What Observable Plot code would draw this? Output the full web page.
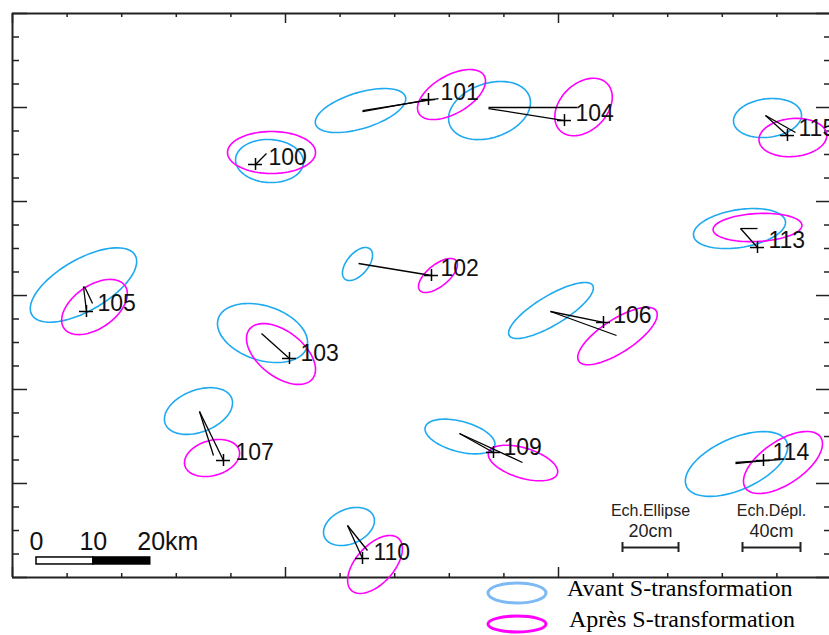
<!DOCTYPE html>
<html><head><meta charset="utf-8">
<script src="https://cdn.jsdelivr.net/npm/d3@7"></script>
<script src="https://cdn.jsdelivr.net/npm/@observablehq/plot@0.6"></script>
<style>
html,body{margin:0;padding:0;background:#fff;overflow:hidden;}
#wrap{position:relative;width:829px;height:635px;overflow:hidden;}
#wrap svg{position:absolute;left:0;top:0;}
</style></head><body><div id="wrap"></div>
<script>
// ---- data (map units: km) ----
const stations = ["100","101","102","103","104","105","106","107","109","110","113","114","115"];
const stationX = [42.73, 73.14, 73.67, 48.70, 97.05, 13.01, 103.91, 37.10, 84.57, 61.54, 130.99, 132.04, 136.26];
const stationY = [72.62, 84.04, 53.10, 38.51, 80.35, 46.77, 44.84, 20.57, 21.98, 3.34, 58.02, 20.57, 77.71];
const labelX = [45.01, 75.25, 75.25, 50.64, 98.99, 14.95, 105.63, 39.21, 86.33, 63.47, 132.92, 133.63, 138.20];
const labelY = [73.85, 85.27, 54.33, 39.38, 81.58, 48.18, 46.07, 21.98, 22.86, 4.40, 59.25, 21.98, 78.94];

// error ellipses before S-transformation: centre, semi-axes, orientation (deg)
const beforeCx = [45.19, 61.19, 60.66, 43.96, 83.87, 12.48, 94.68, 32.70, 78.68, 59.16, 127.82, 127.30, 132.75];
const beforeCy = [73.23, 82.11, 55.12, 42.99, 82.11, 51.43, 46.95, 29.27, 24.79, 8.97, 61.36, 19.96, 80.79];
const beforeA  = [5.98, 8.26, 3.45, 8.18, 7.44, 10.48, 8.56, 6.26, 6.33, 4.69, 8.18, 9.64, 6.01];
const beforeB  = [3.78, 3.16, 1.88, 4.77, 4.76, 4.52, 2.57, 3.69, 2.67, 3.04, 3.32, 4.52, 3.38];
const beforeAngle = [-3, 17, 50, -18, 19, 30, 31, 21, -15, 23, 9, 24, 7];

// error ellipses after S-transformation
const afterCx = [45.54, 77.19, 74.81, 47.21, 100.40, 14.42, 106.37, 35.08, 89.76, 63.74, 130.99, 135.47, 137.21];
const afterCy = [74.73, 84.92, 53.10, 39.30, 82.73, 47.56, 42.46, 21.01, 20.13, 2.29, 61.54, 20.22, 77.36];
const afterA  = [7.74, 6.63, 4.13, 7.05, 5.85, 6.54, 8.12, 4.96, 6.33, 6.17, 7.82, 7.98, 5.98];
const afterB  = [3.69, 3.34, 1.90, 3.97, 4.10, 3.76, 2.90, 3.08, 2.64, 3.34, 2.46, 3.78, 3.34];
const afterAngle = [0, 30, 39, -38, 45, 35, 33, 16, -17, 48, 3, 34, 5];

// displacement vectors
const vecStation = ["100","101","101","102","103","104","104","105","105","106","106","107","107","109","109","110","110","113","113","114","114","115","115"];
const vecX1 = [42.73, 61.54, 61.54, 60.84, 43.78, 83.69, 83.69, 12.48, 12.66, 94.59, 94.59, 32.88, 32.88, 78.59, 78.59, 58.90, 58.90, 128.00, 128.00, 127.12, 127.12, 132.40, 132.40];
const vecY1 = [72.62, 81.93, 82.11, 55.21, 42.90, 82.46, 82.64, 51.16, 51.16, 46.77, 46.77, 29.19, 29.19, 25.32, 25.32, 9.14, 9.14, 61.36, 61.36, 20.04, 20.22, 81.23, 81.23];
const vecX2 = [44.66, 73.14, 74.90, 73.67, 48.70, 97.05, 99.34, 13.01, 14.07, 103.91, 106.20, 37.10, 35.34, 84.57, 89.67, 61.54, 62.42, 130.99, 130.99, 132.04, 135.03, 136.26, 137.67];
const vecY2 = [74.55, 84.04, 84.22, 53.10, 38.51, 80.35, 82.64, 46.77, 48.18, 44.84, 42.55, 20.57, 21.45, 21.98, 20.22, 3.34, 4.75, 58.02, 61.36, 20.57, 20.75, 77.71, 78.24];

// frame and ticks
const xExtent = [0, 144];
const yExtent = [0, 99.17];
const xMajor = [0, 48, 96, 144];
const xMinor = [9.6, 19.2, 28.8, 38.4, 57.6, 67.2, 76.8, 86.4, 105.6, 115.2, 124.8, 134.4];
const yMajor = [0, 16.53, 33.06, 49.58, 66.11, 82.64, 99.17];
const yMinor = [4.13, 8.26, 12.40, 20.66, 24.79, 28.93, 37.19, 41.32, 45.45, 53.72, 57.85, 61.98, 70.24, 74.38, 78.51, 86.77, 90.90, 95.04];

// km scale bar
const kmBarStart = 4.22;
const kmBarTicks = [0, 10, 20];
const kmBarLabels = ["0", "10", "20km"];
const kmBarY = [2.29, 3.52];
const kmLabelY = 6.33;

// ellipse / displacement scale bars
const echTitles = ["Ech.Ellipse", "Ech.Dépl."];
const echValues = ["20cm", "40cm"];
const echX1 = [107.25, 128.35];
const echX2 = [117.10, 138.55];
const echY = 5.27;
const echTitleY = 11.65;
const echValueY = 8.05;

// legend
const legendLabels = ["Avant S-transformation", "Après S-transformation"];

const BLUE = "#1eaaf0", MAGENTA = "#ff00ff";

// ---- build tables ----
const stationRows = stations.map((id, i) => ({id, x: stationX[i], y: stationY[i], lx: labelX[i], ly: labelY[i]}));
function ellipseRows(cx, cy, A, B, ang) {
  const rows = [];
  stations.forEach((id, i) => {
    const th = ang[i] * Math.PI / 180, c = Math.cos(th), s = Math.sin(th);
    for (let k = 0; k < 90; k++) {
      const t = 2 * Math.PI * k / 90;
      const u = A[i] * Math.cos(t), v = B[i] * Math.sin(t);
      rows.push({id, x: cx[i] + u * c - v * s, y: cy[i] + u * s + v * c});
    }
  });
  return rows;
}
const beforeRows = ellipseRows(beforeCx, beforeCy, beforeA, beforeB, beforeAngle);
const afterRows = ellipseRows(afterCx, afterCy, afterA, afterB, afterAngle);
const vecRows = vecStation.map((id, i) => ({id, x1: vecX1[i], y1: vecY1[i], x2: vecX2[i], y2: vecY2[i]}));
const kmRows = kmBarTicks.map((t, i) => ({x: kmBarStart + t, label: kmBarLabels[i]}));
const echRows = echTitles.map((t, i) => ({title: t, value: echValues[i], x1: echX1[i], x2: echX2[i], xm: (echX1[i] + echX2[i]) / 2}));

const frameColor = "#222";
const chart = Plot.plot({
  width: 829, height: 635,
  marginTop: 13, marginLeft: 12, marginRight: 0, marginBottom: 58,
  x: {domain: xExtent, range: [12, 831], axis: null},
  y: {domain: yExtent, range: [577, 13], axis: null},
  style: {fontFamily: "Liberation Sans, Arial, sans-serif", background: "transparent", overflow: "visible"},
  marks: [
    // frame
    Plot.ruleX(xExtent, {x: d => d, y1: yExtent[0], y2: yExtent[1], stroke: frameColor, strokeWidth: 2}),
    Plot.ruleY(yExtent, {y: d => d, x1: xExtent[0], x2: xExtent[1], stroke: frameColor, strokeWidth: 2}),
    // top ticks
    Plot.ruleX(xMinor, {x: d => d, y1: yExtent[1], y2: yExtent[1], insetBottom: -4, stroke: frameColor, strokeWidth: 1.5}),
    Plot.ruleX(xMajor, {x: d => d, y1: yExtent[1], y2: yExtent[1], insetBottom: -10, stroke: frameColor, strokeWidth: 1.5}),
    // bottom ticks
    Plot.ruleX(xMinor, {x: d => d, y1: yExtent[0], y2: yExtent[0], insetTop: -4, stroke: frameColor, strokeWidth: 1.5}),
    Plot.ruleX(xMajor, {x: d => d, y1: yExtent[0], y2: yExtent[0], insetTop: -10, stroke: frameColor, strokeWidth: 1.5}),
    // left ticks
    Plot.ruleY(yMinor, {y: d => d, x1: xExtent[0], x2: xExtent[0], insetRight: -7, stroke: frameColor, strokeWidth: 1.5}),
    Plot.ruleY(yMajor, {y: d => d, x1: xExtent[0], x2: xExtent[0], insetRight: -15, stroke: frameColor, strokeWidth: 1.5}),
    // right ticks
    Plot.ruleY(yMinor, {y: d => d, x1: xExtent[1], x2: xExtent[1], insetLeft: -7, stroke: frameColor, strokeWidth: 1.5}),
    Plot.ruleY(yMajor, {y: d => d, x1: xExtent[1], x2: xExtent[1], insetLeft: -15, stroke: frameColor, strokeWidth: 1.5}),

    // error ellipses
    Plot.line(beforeRows, {x: "x", y: "y", z: "id", curve: "linear-closed", stroke: BLUE, strokeWidth: 1.6}),
    Plot.line(afterRows, {x: "x", y: "y", z: "id", curve: "linear-closed", stroke: MAGENTA, strokeWidth: 1.6}),

    // displacement vectors
    Plot.link(vecRows, {x1: "x1", y1: "y1", x2: "x2", y2: "y2", stroke: "#000", strokeWidth: 1.3}),

    // station crosses
    Plot.ruleX(stationRows, {x: "x", y1: "y", y2: "y", insetTop: -6, insetBottom: -6, stroke: "#000", strokeWidth: 1.5}),
    Plot.ruleY(stationRows, {y: "y", x1: "x", x2: "x", insetLeft: -7, insetRight: -7, stroke: "#000", strokeWidth: 1.5}),

    // station labels
    Plot.text(stationRows, {x: "lx", y: "ly", text: "id", textAnchor: "start", fontSize: 23, fill: "#111"}),

    // km scale bar
    Plot.rect([0], {x1: kmBarStart + kmBarTicks[0], x2: kmBarStart + kmBarTicks[1], y1: kmBarY[0], y2: kmBarY[1], fill: "#fff", stroke: "#000", strokeWidth: 1.5}),
    Plot.rect([0], {x1: kmBarStart + kmBarTicks[1], x2: kmBarStart + kmBarTicks[2], y1: kmBarY[0], y2: kmBarY[1], fill: "#000", stroke: "#000", strokeWidth: 1.5}),
    Plot.text(kmRows.slice(0, 2), {x: "x", y: kmLabelY, text: "label", textAnchor: "middle", fontSize: 25, fill: "#111"}),
    Plot.text(kmRows.slice(2), {x: "x", y: kmLabelY, text: "label", textAnchor: "start", dx: -13, fontSize: 25, fill: "#111"}),

    // Ech scale bars
    Plot.link(echRows, {x1: "x1", x2: "x2", y1: echY, y2: echY, stroke: "#222", strokeWidth: 2}),
    Plot.ruleX(echRows, {x: "x1", y1: echY, y2: echY, insetTop: -5, insetBottom: -5, stroke: "#222", strokeWidth: 2}),
    Plot.ruleX(echRows, {x: "x2", y1: echY, y2: echY, insetTop: -5, insetBottom: -5, stroke: "#222", strokeWidth: 2}),
    Plot.text(echRows, {x: "xm", y: echTitleY, text: "title", fontSize: 16, fill: "#222", style: "letter-spacing:1.5px"}),
    Plot.text(echRows, {x: "xm", y: echValueY, text: "value", fontSize: 18, fill: "#222", style: "letter-spacing:2.5px"})
  ]
});
const wrap = document.getElementById("wrap");
wrap.appendChild(chart);

// legend (below the map frame)
const ns = "http://www.w3.org/2000/svg";
const leg = document.createElementNS(ns, "svg");
leg.setAttribute("width", 829); leg.setAttribute("height", 635);
leg.style.pointerEvents = "none";
const legColors = ["#7db9f2", MAGENTA];
const legY = [593, 624];
const legRy = [10, 8];
legendLabels.forEach((lab, i) => {
  const e = document.createElementNS(ns, "ellipse");
  e.setAttribute("cx", 517); e.setAttribute("cy", legY[i]);
  e.setAttribute("rx", 29); e.setAttribute("ry", legRy[i]);
  e.setAttribute("fill", "none"); e.setAttribute("stroke", legColors[i]); e.setAttribute("stroke-width", 3);
  leg.appendChild(e);
  const t = document.createElementNS(ns, "text");
  t.setAttribute("x", 567 + i * 2); t.setAttribute("y", legY[i] - 3);
  t.setAttribute("dominant-baseline", "middle");
  t.setAttribute("font-family", "Liberation Serif, Times New Roman, serif");
  t.setAttribute("font-size", 24);
  t.setAttribute("fill", "#000");
  t.textContent = lab;
  leg.appendChild(t);
});
wrap.appendChild(leg);
</script></body></html>
